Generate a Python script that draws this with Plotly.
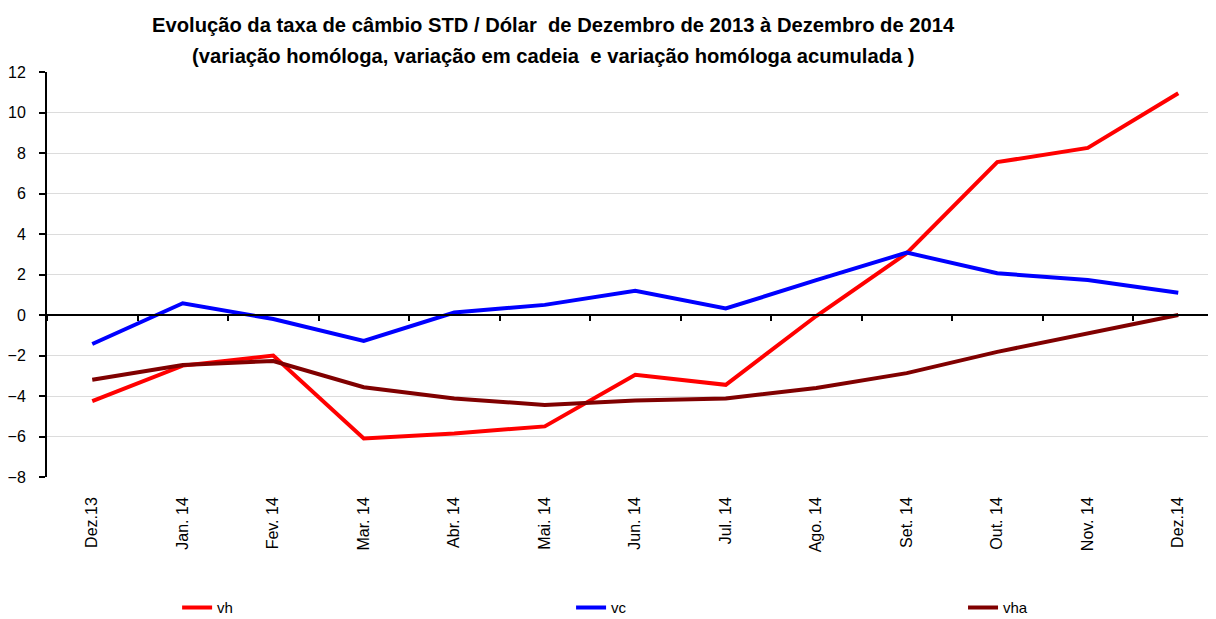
import plotly.graph_objects as go

categories = ["Dez.13", "Jan. 14", "Fev. 14", "Mar. 14", "Abr. 14", "Mai. 14", "Jun. 14",
              "Jul. 14", "Ago. 14", "Set. 14", "Out. 14", "Nov. 14", "Dez.14"]
vh = [-4.25, -2.5, -2.0, -6.1, -5.85, -5.5, -2.95, -3.45, -0.05, 3.05, 7.55, 8.25, 10.95]
vc = [-1.43, 0.58, -0.2, -1.28, 0.12, 0.5, 1.2, 0.32, 1.72, 3.08, 2.06, 1.73, 1.1]
vha = [-3.2, -2.47, -2.27, -3.57, -4.12, -4.44, -4.22, -4.12, -3.6, -2.87, -1.82, -0.92, 0.0]

series = [("vh", vh, "#FF0000", "legend"), ("vc", vc, "#0000FF", "legend2"),
          ("vha", vha, "#800000", "legend3")]
legend_x = [0.1113, 0.4483, 0.7836]

title1 = "Evolução da taxa de câmbio STD / Dólar  de Dezembro de 2013 à Dezembro de 2014"
title2 = "(variação homóloga, variação em cadeia  e variação homóloga acumulada )"

FONT = "Liberation Sans, Arial, sans-serif"

fig = go.Figure()
for name, vals, col, lg in series:
    fig.add_trace(go.Scatter(x=categories, y=vals, mode="lines", name=name, legend=lg,
                             line=dict(color=col, width=4)))

xrange = [-0.5, 12.417]
legend_common = dict(orientation="h", y=-0.323, xanchor="left", yanchor="middle",
                     font=dict(size=15, family=FONT), bgcolor="rgba(0,0,0,0)")
fig.update_layout(
    width=1208, height=611,
    margin=dict(l=39, r=0, t=64, b=142, autoexpand=False),
    paper_bgcolor="white", plot_bgcolor="white",
    font=dict(family=FONT, color="black"),
    showlegend=True,
    legend=dict(x=legend_x[0], **legend_common),
    legend2=dict(x=legend_x[1], **legend_common),
    legend3=dict(x=legend_x[2], **legend_common),
    xaxis=dict(type="category", categoryorder="array", categoryarray=categories,
               range=xrange, showgrid=False, showline=False, zeroline=False,
               tickangle=-90, tickfont=dict(size=16, family=FONT), automargin=False,
               ticks="", ticklabelstandoff=16),
    xaxis2=dict(type="category", categoryorder="array", categoryarray=categories,
                range=xrange, overlaying="x", anchor="free", position=0.4,
                showline=True, linecolor="black", linewidth=2, automargin=False,
                ticks="outside", ticklen=5, tickwidth=1.5, tickcolor="black",
                tickson="boundaries", showticklabels=False, showgrid=False,
                zeroline=False),
    yaxis=dict(range=[-8, 12], dtick=2, showgrid=True, gridcolor="#dcdcdc", gridwidth=1,
               showline=True, linecolor="black", linewidth=2, ticks="outside",
               ticklen=6, tickwidth=1.5, tickcolor="black", zeroline=False,
               automargin=False,
               tickfont=dict(size=16, family=FONT), ticklabelstandoff=10),
    annotations=[
        dict(text="<b>" + title1 + "</b>", x=0.4337, y=1.116, xref="paper", yref="paper",
             xanchor="center", yanchor="middle", showarrow=False,
             font=dict(size=20.2, family=FONT)),
        dict(text="<b>" + title2 + "</b>", x=0.4337, y=1.040, xref="paper", yref="paper",
             xanchor="center", yanchor="middle", showarrow=False,
             font=dict(size=20.2, family=FONT)),
    ],
)
# invisible helper trace on xaxis2 so the zero-line axis with its ticks is drawn
fig.add_trace(go.Scatter(x=categories, y=vha, xaxis="x2", mode="lines",
                         line=dict(width=0, color="rgba(0,0,0,0)"), showlegend=False,
                         hoverinfo="skip"))

fig.write_html("out.html")
